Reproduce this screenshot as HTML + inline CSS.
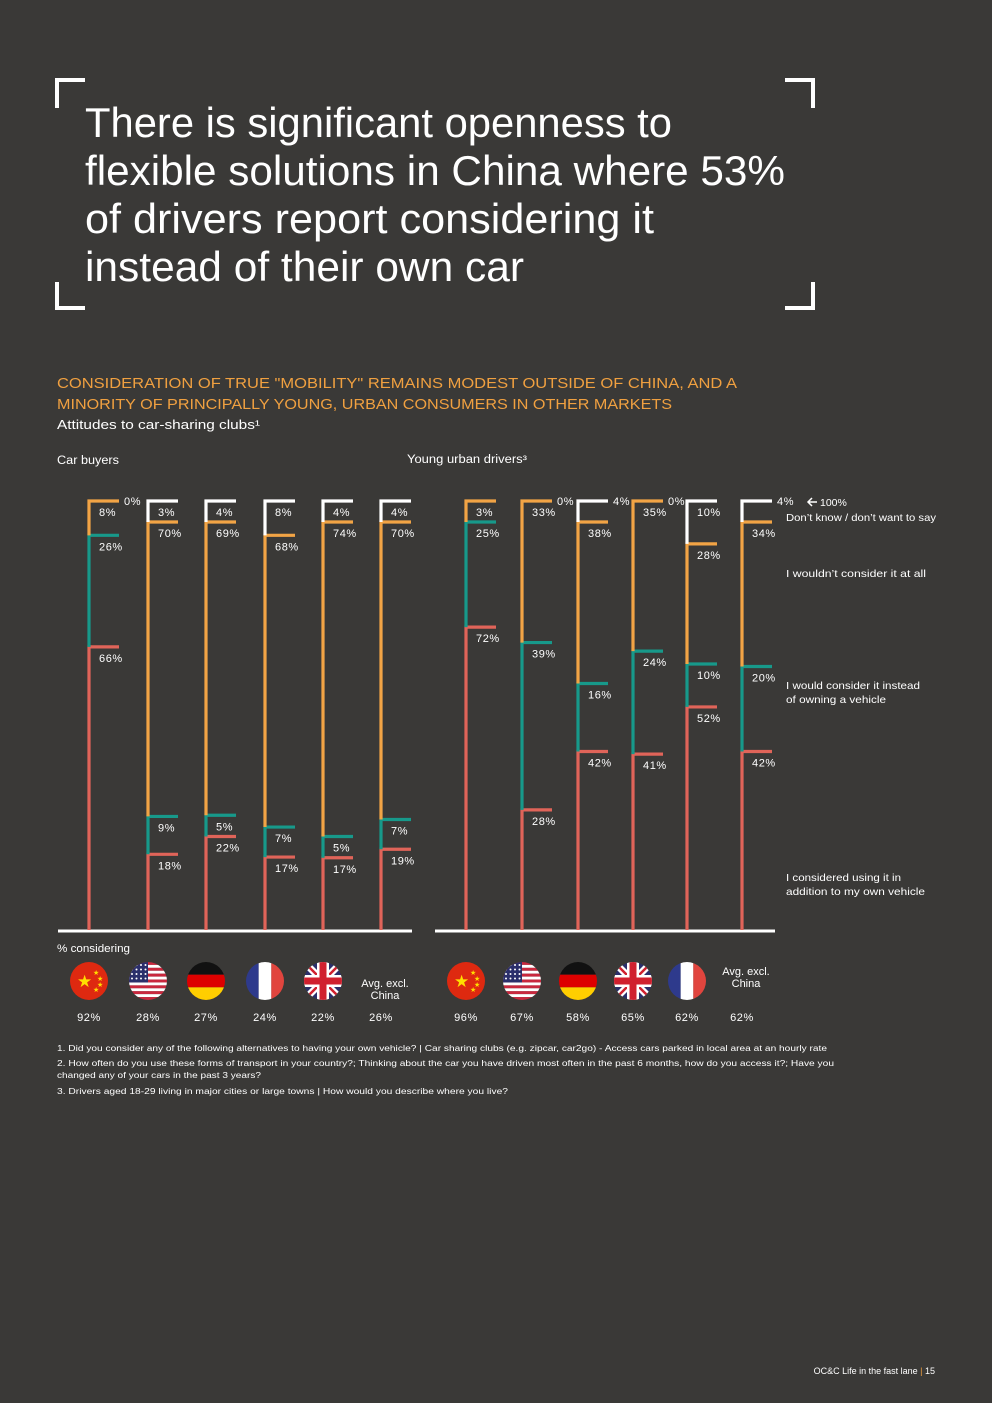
<!DOCTYPE html>
<html><head><meta charset="utf-8">
<style>
html,body{margin:0;padding:0;background:#3a3937;}
svg{display:block;font-family:"Liberation Sans",sans-serif;}
</style></head>
<body>
<svg id="page" width="992" height="1403" viewBox="0 0 992 1403" xmlns="http://www.w3.org/2000/svg">
<rect width="992" height="1403" fill="#3a3937"/>
<g fill="none" stroke="#fff" stroke-width="4">
<path d="M57,108 V80 H85"/><path d="M785,80 H813 V108"/>
<path d="M57,282 V308 H85"/><path d="M785,308 H813 V282"/>
</g>
<g fill="#fff" font-size="42">
<text x="85" y="137" textLength="587" lengthAdjust="spacingAndGlyphs">There is significant openness to</text>
<text x="85" y="185" textLength="700" lengthAdjust="spacingAndGlyphs">flexible solutions in China where 53%</text>
<text x="85" y="233" textLength="569" lengthAdjust="spacingAndGlyphs">of drivers report considering it</text>
<text x="85" y="281" textLength="439" lengthAdjust="spacingAndGlyphs">instead of their own car</text>
</g>
<g fill="#f0a040" font-size="15">
<text x="57" y="388" textLength="680" lengthAdjust="spacingAndGlyphs">CONSIDERATION OF TRUE "MOBILITY" REMAINS MODEST OUTSIDE OF CHINA, AND A</text>
<text x="57" y="409" textLength="615" lengthAdjust="spacingAndGlyphs">MINORITY OF PRINCIPALLY YOUNG, URBAN CONSUMERS IN OTHER MARKETS</text>
</g>
<text x="57" y="429" fill="#fff" font-size="13" textLength="203" lengthAdjust="spacingAndGlyphs">Attitudes to car-sharing clubs¹</text>
<text x="57" y="464" fill="#fff" font-size="11.5" textLength="62" lengthAdjust="spacingAndGlyphs">Car buyers</text>
<text x="407" y="463" fill="#fff" font-size="11.5" textLength="120" lengthAdjust="spacingAndGlyphs">Young urban drivers³</text>
<g id="charts"></g>
<g fill="#fff" font-size="10.5">
<path d="M817,502 H808 M812,498 L808,502 L812,506" stroke="#fff" stroke-width="1.5" fill="none"/>
<text x="820" y="506">100%</text>
<text x="786" y="521" textLength="150" lengthAdjust="spacingAndGlyphs">Don’t know / don’t want to say</text>
<text x="786" y="577" textLength="140" lengthAdjust="spacingAndGlyphs">I wouldn’t consider it at all</text>
<text x="786" y="689" textLength="134" lengthAdjust="spacingAndGlyphs">I would consider it instead</text>
<text x="786" y="703" textLength="100" lengthAdjust="spacingAndGlyphs">of owning a vehicle</text>
<text x="786" y="881" textLength="115" lengthAdjust="spacingAndGlyphs">I considered using it in</text>
<text x="786" y="895" textLength="139" lengthAdjust="spacingAndGlyphs">addition to my own vehicle</text>
</g>
<text x="57" y="952" fill="#fff" font-size="11" textLength="73" lengthAdjust="spacingAndGlyphs">% considering</text>
<g fill="#fff" font-size="8.6">
<text x="57" y="1051" textLength="770" lengthAdjust="spacingAndGlyphs">1. Did you consider any of the following alternatives to having your own vehicle? | Car sharing clubs (e.g. zipcar, car2go) - Access cars parked in local area at an hourly rate</text>
<text x="57" y="1066" textLength="777" lengthAdjust="spacingAndGlyphs">2. How often do you use these forms of transport in your country?; Thinking about the car you have driven most often in the past 6 months, how do you access it?; Have you</text>
<text x="57" y="1078" textLength="204" lengthAdjust="spacingAndGlyphs">changed any of your cars in the past 3 years?</text>
<text x="57" y="1094" textLength="451" lengthAdjust="spacingAndGlyphs">3. Drivers aged 18-29 living in major cities or large towns | How would you describe where you live?</text>
</g>
<text x="935" y="1374" fill="#fff" font-size="9" text-anchor="end">OC&amp;C  Life in the fast lane  <tspan fill="#f0a040">|</tspan>  15</text>
</svg>
<script>
const cbCountries=["China","US","Germany","France","UK","Avg"];
const cbAddition=[66,18,22,17,17,19];
const cbInstead=[26,9,5,7,5,7];
const cbWouldnt=[8,70,69,68,74,70];
const cbDontKnow=[0,3,4,8,4,4];
const cbConsidering=["92%","28%","27%","24%","22%","26%"];
const yuCountries=["China","US","Germany","UK","France","Avg"];
const yuAddition=[72,28,42,41,52,42];
const yuInstead=[25,39,16,24,10,20];
const yuWouldnt=[3,33,38,35,28,34];
const yuDontKnow=[null,0,4,0,10,4];
const yuConsidering=["96%","67%","58%","65%","62%","62%"];

const NS="http://www.w3.org/2000/svg";
const root=document.getElementById('charts');
const base=930, top100=501, minH=21;
function mk(tag,attrs,parent){const e=document.createElementNS(NS,tag);for(const k in attrs)e.setAttribute(k,attrs[k]);(parent||root).appendChild(e);return e;}
const colors=["#e06459","#17998a","#f2a445","#ffffff"];
const segNames=["addition","instead","wouldnt","dont-know"];

// segment heights: proportional, but small non-zero segments get a minimum height
function heights(vals){
  const total=base-top100;
  const vs=vals.map(v=>v||0);
  const sum=vs.reduce((a,b)=>a+b,0)||1;
  let small=vs.map(v=>v>0&&v/sum*total<minH);
  const nSmall=small.filter(Boolean).length;
  const bigSum=vs.reduce((a,v,i)=>a+(small[i]?0:v),0)||1;
  const remain=total-nSmall*minH;
  return vs.map((v,i)=>v===0?0:(small[i]?minH:v/bigSum*remain));
}

function flag(name,cx,cy,g){
  const r=19;
  const id='clip'+Math.round(cx);
  const cp=mk('clipPath',{id:id},g);mk('circle',{cx:cx,cy:cy,r:r},cp);
  const f=mk('g',{'clip-path':'url(#'+id+')'},g);
  
  
  const x=cx-r,y=cy-r,w=2*r;
  if(name==="China"){mk('rect',{x:x,y:y,width:w,height:w,fill:'#de2910'},f);
    mk('text',{x:cx-12,y:cy+6,fill:'#ffde00','font-size':17},f).textContent='★';
    [[4,-9],[8,-3],[8,3],[4,8]].forEach(d=>{mk('text',{x:cx+d[0],y:cy+d[1]+3,fill:'#ffde00','font-size':7},f).textContent='★';});}
  else if(name==="US"){for(let i=0;i<13;i++)mk('rect',{x:x,y:y+i*w/13,width:w,height:w/13,fill:i%2?'#fff':'#c9283e'},f);
    mk('rect',{x:x,y:y,width:w*0.5,height:w*7/13,fill:'#2b2f6b'},f);
    for(let i=0;i<4;i++)for(let j=0;j<4;j++)mk('circle',{cx:x+3+j*4.5,cy:y+3+i*4.5,r:1,fill:'#fff'},f);}
  else if(name==="Germany"){['#111','#dd0000','#ffce00'].forEach((c,i)=>mk('rect',{x:x,y:y+i*w/3,width:w,height:w/3,fill:c},f));}
  else if(name==="France"){['#2e3a8c','#fff','#e1453e'].forEach((c,i)=>mk('rect',{x:x+i*w/3,y:y,width:w/3,height:w,fill:c},f));}
  else if(name==="UK"){mk('rect',{x:x,y:y,width:w,height:w,fill:'#2b2f6b'},f);
    mk('path',{d:`M${x},${y}L${x+w},${y+w}M${x+w},${y}L${x},${y+w}`,stroke:'#fff','stroke-width':7},f);
    mk('path',{d:`M${x},${y}L${x+w},${y+w}M${x+w},${y}L${x},${y+w}`,stroke:'#d0202e','stroke-width':2.5},f);
    mk('rect',{x:cx-6,y:y,width:12,height:w,fill:'#fff'},f);mk('rect',{x:x,y:cy-6,width:w,height:12,fill:'#fff'},f);
    mk('rect',{x:cx-3.5,y:y,width:7,height:w,fill:'#d0202e'},f);mk('rect',{x:x,y:cy-3.5,width:w,height:7,fill:'#d0202e'},f);}
}

function drawPanel(key,xs,countries,segs,considering,axisX0,axisX1,whiteRightMax){
  const g=mk('g',{});
  
  
  const ax=mk('line',{x1:axisX0,x2:axisX1,y1:base+1,y2:base+1,stroke:'#fff','stroke-width':3},g);
  
  
  countries.forEach((c,i)=>{
    const x=xs[i];
    const hs=heights(segs.map(s=>s[i]));
    let yCur=base;
    const bg=mk('g',{},g);
    
    
    for(let s=0;s<4;s++){
      const raw=segs[s][i];
      if(raw===null)continue;
      const v=raw;const y0=yCur;const y1=yCur-hs[s];yCur=y1;
      if(v>0){
        const p=mk('path',{d:`M${x},${y0}V${y1}H${x+30}`,fill:'none',stroke:colors[s],'stroke-width':3.2},bg);
        
        
      }
      let tx=x+10,ty=y1+15;
      if(s===3&&v<=whiteRightMax){tx=x+35;ty=y1+4;}
      const t=mk('text',{x:tx,y:ty,fill:'#fff','font-size':11,'letter-spacing':0.6},bg);
      
      
      t.textContent=v+'%';
    }
    if(c==="Avg"){
      const t1=mk('text',{x:x+4,y:987,fill:'#fff','font-size':11,'text-anchor':'middle'},g);
      
      
      t1.innerHTML='<tspan x="'+(x+4)+'" dy="'+(key==='car-buyers'?0:-12)+'">Avg. excl.</tspan><tspan x="'+(x+4)+'" dy="12">China</tspan>';
    } else flag(c,x,981,g);
    const pc=mk('text',{x:x,y:1021,fill:'#fff','font-size':11,'text-anchor':'middle','letter-spacing':0.6},g);
    
    
    pc.textContent=considering[i];
  });
}
drawPanel('car-buyers',[89,148,206,265,323,381],cbCountries,[cbAddition,cbInstead,cbWouldnt,cbDontKnow],cbConsidering,58,412,0);
drawPanel('young-urban',[466,522,578,633,687,742],yuCountries,[yuAddition,yuInstead,yuWouldnt,yuDontKnow],yuConsidering,435,775,4);
</script>
</body></html>
